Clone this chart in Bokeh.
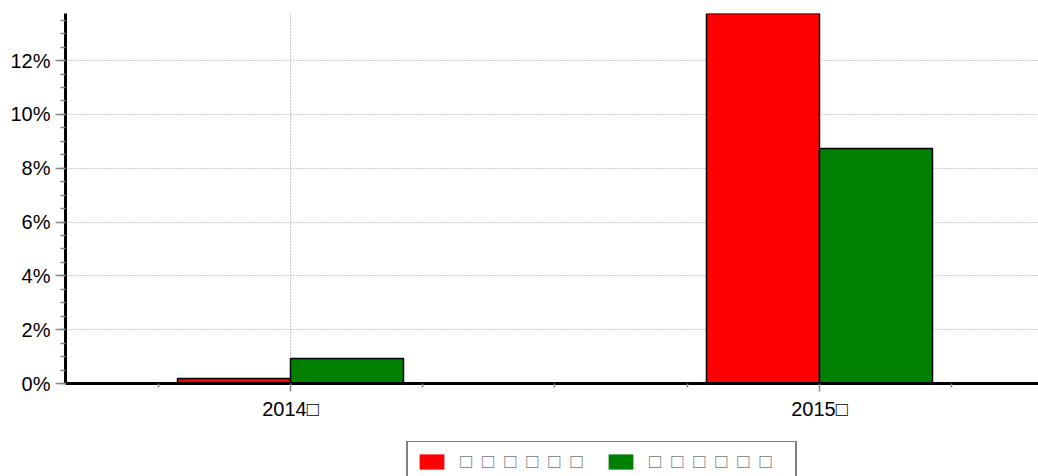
from bokeh.plotting import figure
from bokeh.layouts import column
from bokeh.models import (Range1d, FixedTicker, PrintfTickFormatter, Legend, LegendItem,
                          ColumnDataSource)
from bokeh.transform import dodge
from bokeh.embed import file_html
from bokeh.resources import INLINE

# ---- data ----
years = ["2014\u25a1", "2015\u25a1"]
series_names = ["\u2002".join(["\u25a1"] * 6) + "\u2002\u00a0",
                "\u2002".join(["\u25a1"] * 6) + "\u2002\u00a0"]
red_vals = [0.19, 15.2]
green_vals = [0.93, 8.73]
y_ticks = [0, 2, 4, 6, 8, 10, 12]

RED = "#ff0000"
GREEN = "#008000"
FONT = "Liberation Sans"

pos = list(range(len(years)))
src = ColumnDataSource(dict(x=pos, red=red_vals, green=green_vals))

p = figure(width=1038, height=441, output_backend="svg", toolbar_location=None,
           x_range=Range1d(-0.4253, 1.414), y_range=Range1d(0, 13.75),
           min_border_left=65, min_border_right=0, min_border_top=13, min_border_bottom=58)
p.outline_line_color = None
p.background_fill_color = "white"
p.border_fill_color = "white"

bw = 0.2136
p.vbar(x=dodge('x', -bw / 2), top='red', width=bw, source=src,
       fill_color=RED, line_color="black", line_width=1.5)
p.vbar(x=dodge('x', bw / 2), top='green', width=bw, source=src,
       fill_color=GREEN, line_color="black", line_width=1.5)

# ---- axes ----
minor_x = sorted(set(round(c + d, 2) for c in pos for d in (-0.25, 0.25, 0.5, 0.75)))
p.xaxis.ticker = FixedTicker(ticks=pos, minor_ticks=minor_x)
p.xaxis.major_label_overrides = {i: years[i] for i in pos}
p.yaxis.ticker = FixedTicker(ticks=y_ticks,
                             minor_ticks=[v / 2 for v in range(0, 28)])
p.yaxis.formatter = PrintfTickFormatter(format="%d%%")

for ax in (p.xaxis, p.yaxis):
    ax.axis_line_color = "black"
    ax.axis_line_width = 3
    ax.major_tick_line_color = "#888888"
    ax.minor_tick_line_color = "#888888"
    ax.major_tick_line_width = 1.5
    ax.minor_tick_line_width = 1.5
    ax.major_tick_in = 0
    ax.minor_tick_in = 0
    ax.major_label_text_font = FONT
    ax.major_label_text_font_size = "20px"
    ax.major_label_text_color = "black"

p.yaxis.major_tick_out = 10
p.yaxis.minor_tick_out = 5
p.yaxis.major_label_standoff = 5
p.xaxis.major_tick_out = 8
p.xaxis.minor_tick_out = 4
p.xaxis.major_label_standoff = 6

# ---- grid ----
p.xgrid.ticker = FixedTicker(ticks=pos)
p.ygrid.ticker = FixedTicker(ticks=y_ticks)
for g in (p.xgrid, p.ygrid):
    g.grid_line_color = "#999999"
    g.grid_line_dash = "1 2"
    g.grid_line_width = 1

# ---- legend (separate strip below the chart) ----
lg = figure(width=1038, height=35, output_backend="svg", toolbar_location=None,
            x_range=Range1d(0, 1), y_range=Range1d(0, 1),
            x_axis_location=None, y_axis_location=None,
            min_border_left=0, min_border_right=0, min_border_top=0, min_border_bottom=0)
lg.outline_line_color = None
lg.xgrid.visible = False
lg.ygrid.visible = False
# swatch renderers: one point placed outside the strip's visible range
lr1 = lg.vbar(x=[5], top=[5], width=0.1, fill_color=RED, line_color=None)
lr2 = lg.vbar(x=[5], top=[5], width=0.1, fill_color=GREEN, line_color=None)

legend = Legend(items=[LegendItem(label=series_names[0], renderers=[lr1]),
                       LegendItem(label=series_names[1], renderers=[lr2])],
                orientation="horizontal", location=(341, -7))
legend.border_line_color = "black"
legend.border_line_width = 2
legend.label_text_font = FONT
legend.label_text_font_size = "20px"
legend.label_text_color = "#777777"
legend.label_height = 20
legend.glyph_width = 31
legend.glyph_height = 19
legend.label_standoff = 13
legend.spacing = 7
legend.padding = 8
legend.margin = 0
lg.add_layout(legend, "center")

layout = column(p, lg, spacing=0)
open("out.html", "w").write(file_html(layout, INLINE))
